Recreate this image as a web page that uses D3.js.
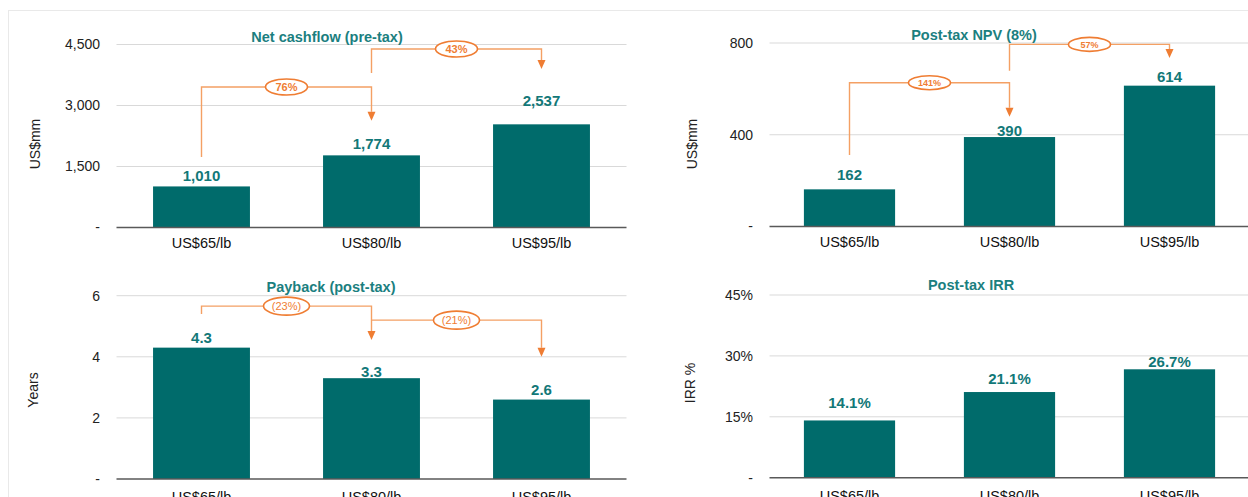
<!DOCTYPE html>
<html><head><meta charset="utf-8">
<script src="https://cdn.jsdelivr.net/npm/d3@7"></script>
<style>
html,body{margin:0;padding:0;background:#fff;}
svg{display:block;font-family:"Liberation Sans",Arial,sans-serif;}
</style></head>
<body>
<svg id="c" width="1248" height="497"></svg>
<script>
// ---- data ----
const categories = ["US$65/lb", "US$80/lb", "US$95/lb"];

const netCashflow = [1010, 1774, 2537];
const netCashflowTicks = [0, 1500, 3000, 4500];
const netCashflowChanges = [
  {from: 0, to: 1, text: "76%", start: 1734, level: 3455, tip: 2626},
  {from: 1, to: 2, text: "43%", start: 3799, level: 4389, tip: 3897}
];

const npv = [162, 390, 614];
const npvTicks = [0, 400, 800];
const npvChanges = [
  {from: 0, to: 1, text: "141%", start: 312, level: 627, tip: 479},
  {from: 1, to: 2, text: "57%", start: 679, level: 794, tip: 735}
];

const payback = [4.3, 3.3, 2.6];
const paybackTicks = [0, 2, 4, 6];
const paybackChanges = [
  {from: 0, to: 1, text: "(23%)", start: 5.4, level: 5.66, tip: 4.55},
  {from: 1, to: 2, text: "(21%)", start: 5.2, level: 5.2, tip: 4.0}
];

const irr = [14.1, 21.1, 26.7];
const irrTicks = [0, 15, 30, 45];

// ---- styles ----
const BAR = "#006b6b", VAL = "#127878", TITLE = "#1b7f7f";
const ORANGE_LINE = "#f4a064", ORANGE = "#ef7d33";

const svg = d3.select("#c");
svg.append("rect").attr("x", 8.5).attr("y", 10.5).attr("width", 1400).attr("height", 700)
  .attr("fill", "none").attr("stroke", "#e9e9e9");

const panels = [
  {values: netCashflow, ticks: netCashflowTicks, changes: netCashflowChanges,
   title: "Net cashflow (pre-tax)", yTitle: "US$mm",
   x: [116.5, 626.5], y: [227.5, 44.5], domain: [0, 4500], tickX: 100,
   yTitlePos: [35, 144], titlePos: [327, 41.7], catY: 248,
   lift: [5, 6.5, 18.6], tickFmt: d3.format(","), valFmt: d3.format(","),
   ell: {rx: 21, ry: 8, fs: 11, fw: "bold"}},
  {values: npv, ticks: npvTicks, changes: npvChanges,
   title: "Post-tax NPV (8%)", yTitle: "US$mm",
   x: [769.5, 1249.5], y: [226.5, 43], domain: [0, 800], tickX: 753,
   yTitlePos: [692, 144], titlePos: [974, 39.5], catY: 247,
   lift: [9, 1, 4], tickFmt: d3.format(","), valFmt: d3.format(","),
   ell: {rx: 21, ry: 7, fs: 9, fw: "bold"}},
  {values: payback, ticks: paybackTicks, changes: paybackChanges,
   title: "Payback (post-tax)", yTitle: "Years",
   x: [116.5, 626.5], y: [479, 295.7], domain: [0, 6], tickX: 100,
   yTitlePos: [33, 390], titlePos: [331, 291.7], catY: 502,
   lift: [4.6, 1.5, 4.6], tickFmt: d3.format("d"), valFmt: d3.format(".1f"),
   ell: {rx: 23, ry: 9, fs: 11, fw: "normal"}},
  {values: irr, ticks: irrTicks, changes: [],
   title: "Post-tax IRR", yTitle: "IRR %",
   x: [769.5, 1249.5], y: [477.7, 295], domain: [0, 45], tickX: 753,
   yTitlePos: [690, 383], titlePos: [971, 290], catY: 501,
   lift: [12, 8, 2.6], tickFmt: d => d + "%", valFmt: d => d.toFixed(1) + "%",
   ell: null}
];

panels.forEach(p => {
  const g = svg.append("g");
  const x = d3.scaleBand().domain(categories).range(p.x).paddingInner(0.43).paddingOuter(0.215);
  const y = d3.scaleLinear().domain(p.domain).range(p.y);

  // gridlines (non-zero)
  g.selectAll("line.grid").data(p.ticks.filter(t => t !== 0)).join("line")
    .attr("x1", p.x[0]).attr("x2", p.x[1])
    .attr("y1", d => y(d)).attr("y2", d => y(d))
    .attr("stroke", "#d9d9d9").attr("stroke-width", 1);

  // tick labels
  g.selectAll("text.tick").data(p.ticks).join("text")
    .attr("x", p.tickX).attr("y", d => y(d)).attr("dy", "0.35em")
    .attr("text-anchor", "end").attr("font-size", 14).attr("fill", "#222")
    .text(d => d === 0 ? "-" : p.tickFmt(d));

  // bars
  g.selectAll("rect.bar").data(p.values).join("rect")
    .attr("x", (d, i) => x(categories[i])).attr("width", x.bandwidth())
    .attr("y", d => y(d)).attr("height", d => y(0) - y(d))
    .attr("fill", BAR);

  // baseline
  g.append("line").attr("x1", p.x[0]).attr("x2", p.x[1])
    .attr("y1", y(0)).attr("y2", y(0)).attr("stroke", "#595959").attr("stroke-width", 1.4);

  // value labels
  g.selectAll("text.val").data(p.values).join("text")
    .attr("x", (d, i) => x(categories[i]) + x.bandwidth() / 2)
    .attr("y", (d, i) => y(d) - p.lift[i])
    .attr("text-anchor", "middle").attr("font-size", 15).attr("font-weight", "bold")
    .attr("fill", VAL).text(d => p.valFmt(d));

  // category labels
  g.selectAll("text.cat").data(categories).join("text")
    .attr("x", d => x(d) + x.bandwidth() / 2).attr("y", p.catY)
    .attr("text-anchor", "middle").attr("font-size", 14.5).attr("fill", "#111")
    .text(d => d);

  // title
  g.append("text").attr("x", p.titlePos[0]).attr("y", p.titlePos[1])
    .attr("text-anchor", "middle").attr("font-size", 14.5).attr("font-weight", "bold")
    .attr("fill", TITLE).text(p.title);

  // y title
  g.append("text").attr("transform", `translate(${p.yTitlePos[0]},${p.yTitlePos[1]}) rotate(-90)`)
    .attr("text-anchor", "middle").attr("dy", "0.35em").attr("font-size", 14).attr("fill", "#222")
    .text(p.yTitle);

  // change brackets
  p.changes.forEach(c => {
    const x1 = x(categories[c.from]) + x.bandwidth() / 2;
    const x2 = x(categories[c.to]) + x.bandwidth() / 2;
    const ys = y(c.start), yl = y(c.level), yt = y(c.tip);
    const ah = 9, aw = 4;
    g.append("path")
      .attr("d", `M${x1},${ys}V${yl}H${x2}V${yt - ah}`)
      .attr("fill", "none").attr("stroke", ORANGE_LINE).attr("stroke-width", 1.4);
    g.append("path")
      .attr("d", `M${x2 - aw},${yt - ah}L${x2 + aw},${yt - ah}L${x2},${yt}Z`)
      .attr("fill", ORANGE);
    const mx = (x1 + x2) / 2;
    g.append("ellipse").attr("cx", mx).attr("cy", yl)
      .attr("rx", p.ell.rx).attr("ry", p.ell.ry)
      .attr("fill", "#fff").attr("stroke", ORANGE).attr("stroke-width", 1.6);
    g.append("text").attr("x", mx).attr("y", yl).attr("dy", "0.36em")
      .attr("text-anchor", "middle").attr("font-size", p.ell.fs).attr("font-weight", p.ell.fw)
      .attr("fill", ORANGE).text(c.text);
  });
});
</script>
</body></html>
